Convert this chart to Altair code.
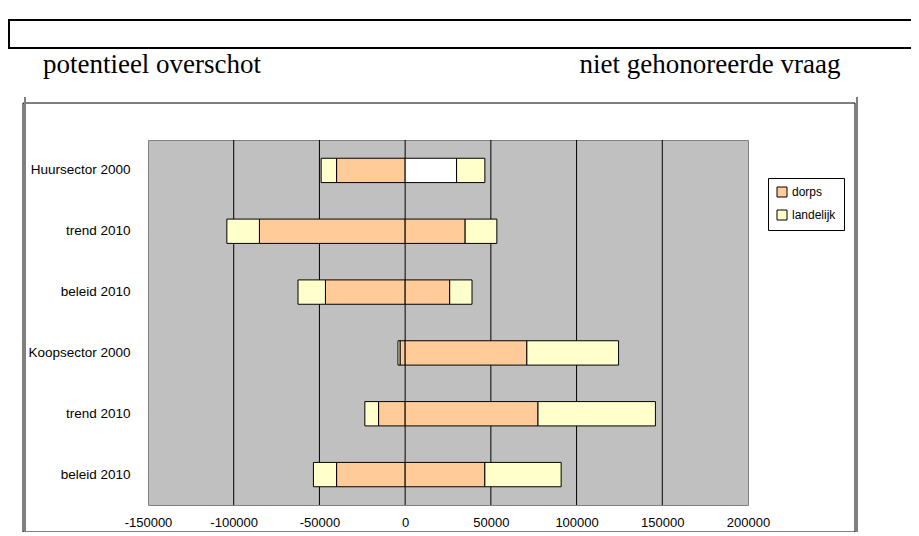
import altair as alt
import pandas as pd

# ---- data ----
categories = ["Huursector 2000", "trend 2010", "beleid 2010",
              "Koopsector 2000", "trend 2010", "beleid 2010"]
dorps_neg = [-40000, -85000, -46500, -3000, -15500, -40000]
landelijk_neg = [-9000, -19000, -16000, -1200, -8000, -13500]
dorps_pos = [30000, 35000, 26000, 71000, 77500, 46500]
landelijk_pos = [16500, 18500, 13000, 53500, 68500, 44500]
dorps_pos_white = [True, False, False, False, False, False]
series = ["dorps", "landelijk"]
x_ticks = [-150000, -100000, -50000, 0, 50000, 100000, 150000, 200000]
grid_values = [-100000, -50000, 0, 50000, 100000, 150000]
header_left = "potentieel overschot"
header_right = "niet gehonoreerde vraag"

rows = []
for i, cat in enumerate(categories):
    key = f"{i}|{cat}"
    dn, ln, dp, lp = dorps_neg[i], landelijk_neg[i], dorps_pos[i], landelijk_pos[i]
    rows.append(dict(cat=key, serie="dorps", x=0, x2=dn))
    rows.append(dict(cat=key, serie="landelijk", x=dn, x2=dn + ln))
    rows.append(dict(cat=key, serie="wit" if dorps_pos_white[i] else "dorps", x=0, x2=dp))
    rows.append(dict(cat=key, serie="landelijk", x=dp, x2=dp + lp))
df = pd.DataFrame(rows)
order = [f"{i}|{c}" for i, c in enumerate(categories)]

W, H = 600, 365
xscale = alt.Scale(domain=[-150000, 200000], nice=False, zero=False)
yscale = alt.Scale(domain=order, paddingInner=0.6, paddingOuter=0.3)

one = pd.DataFrame({"a": [0]})

bars = alt.Chart(df).mark_bar(stroke="black", strokeWidth=1).encode(
    x=alt.X("x:Q", scale=xscale, axis=alt.Axis(
        values=x_ticks, grid=False, domain=False, ticks=False, labelPadding=11,
        labelFont="Liberation Sans", labelFontSize=13, labelColor="black",
        labelExpr="'' + datum.value", labelFlush=False, title=None)),
    x2="x2:Q",
    y=alt.Y("cat:N", scale=yscale, sort=order, axis=alt.Axis(
        grid=False, domain=False, ticks=False, labelPadding=18,
        labelFont="Liberation Sans", labelFontSize=13.5, labelColor="black",
        labelExpr="substring(datum.label, 2)", title=None)),
    color=alt.Color("serie:N", scale=alt.Scale(
        domain=["dorps", "landelijk", "wit"],
        range=["#FFCC99", "#FFFFCC", "#FFFFFF"]),
        legend=alt.Legend(
            values=series, title=None, orient="none", legendX=620, legendY=38,
            symbolType="square", symbolSize=100, symbolStrokeColor="black",
            symbolStrokeWidth=1, labelFont="Liberation Sans", labelFontSize=12,
            labelColor="black", padding=8, strokeColor="black", fillColor="white",
            rowPadding=9, labelOffset=4, cornerRadius=0)),
)

grid = alt.Chart(pd.DataFrame({"g": grid_values})).mark_rule(
    color="black", strokeWidth=1).encode(x=alt.X("g:Q", scale=xscale))

frame = alt.Chart(one).mark_rect(fillOpacity=0, stroke="black", strokeWidth=1).encode(
    x=alt.value(-125), x2=alt.value(707), y=alt.value(-37), y2=alt.value(392))
gray_l = alt.Chart(one).mark_rule(color="#808080", strokeWidth=2).encode(
    x=alt.value(-123), y=alt.value(-43), y2=alt.value(400))
gray_r = alt.Chart(one).mark_rule(color="#808080", strokeWidth=2).encode(
    x=alt.value(709), y=alt.value(-43), y2=alt.value(400))
topbox = alt.Chart(one).mark_rect(fillOpacity=0, stroke="black", strokeWidth=2).encode(
    x=alt.value(-139), x2=alt.value(790), y=alt.value(-120), y2=alt.value(-92))
t_left = alt.Chart(one).mark_text(font="Liberation Serif", fontSize=27, color="black",
                                  align="center", baseline="middle").encode(
    x=alt.value(4), y=alt.value(-75), text=alt.value(header_left))
t_right = alt.Chart(one).mark_text(font="Liberation Serif", fontSize=27, color="black",
                                   align="center", baseline="middle").encode(
    x=alt.value(562), y=alt.value(-75), text=alt.value(header_right))

chart = alt.layer(frame, gray_l, gray_r, topbox, t_left, t_right, grid, bars).properties(
    width=W, height=H,
    autosize=alt.AutoSizeParams(type="none"),
    padding={"left": 140, "top": 132, "right": 163, "bottom": 27},
).configure_view(fill="#C0C0C0", stroke="#808080", strokeWidth=1)

chart.save("out.html", embed_options={"renderer": "svg", "actions": False})
